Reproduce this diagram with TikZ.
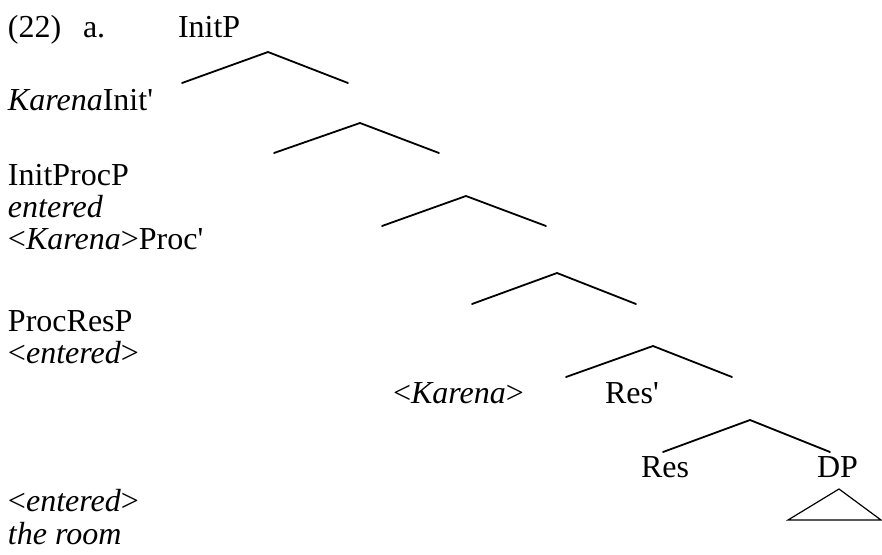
\documentclass[tikz,border=0pt]{standalone}
\usepackage{fontspec}
\setmainfont{Liberation Serif}
\usepackage{tikz}
\usetikzlibrary{positioning}
\newcommand{\primemark}{\textquotesingle}

\begin{document}
\begin{tikzpicture}[x=1pt,y=-1pt,inner sep=0pt,outer sep=0pt]
      \tikzset{word/.style={anchor=base west,font=\fontsize{32}{32}\selectfont}}
      \tikzset{branch/.style={line width=1.8pt,line cap=round,line join=miter}}
      \tikzset{roof/.style={line width=1.2pt}}
      \useasboundingbox (0,0) rectangle (882,554);

      % labels, first column
      \node [word] (num) at (8,37) {(22)};
      \node [word] (ex) at (83,37) {a.};
      \node [word] (initp) at (178,37) {InitP};
      \node [word] (initbar) at (8,110) {\textit{Karena}Init\primemark};
      \node [word] (initproc) at (8,185) {InitProcP};
      \node [word] (verb) at (8,217) {\textit{entered}};
      \node [word] (procbar) at (8,249) {<\textit{Karena}>Proc\primemark};
      \node [word] (procres) at (8,331) {ProcResP};
      \node [word] (vtrace) at (8,363) {<\textit{entered}>};
      \node [word] (rtrace) at (8,511) {<\textit{entered}>};
      \node [word] (obj) at (8,544) {\textit{the room}};

      % labels inside the tree
      \node [word] (subj) at (393,403) {<\textit{Karena}>};
      \node [word] (resbar) at (605,403) {Res\primemark};
      \node [word] (res) at (641,477) {Res};
      \node [word] (dp) at (817,477) {DP};

      % branch points
      \coordinate (a1) at (268,52);  \coordinate (l1) at (182,83);  \coordinate (r1) at (348,83);
      \coordinate (a2) at (360,123); \coordinate (l2) at (274,153); \coordinate (r2) at (439,153);
      \coordinate (a3) at (466,196); \coordinate (l3) at (382,226); \coordinate (r3) at (546,226);
      \coordinate (a4) at (557,273); \coordinate (l4) at (472,304); \coordinate (r4) at (636,304);
      \coordinate (a5) at (653,346); \coordinate (l5) at (566,377); \coordinate (r5) at (732,377);
      \coordinate (a6) at (750,420); \coordinate (l6) at (663,452); \coordinate (r6) at (830,452);

      \draw [branch] (l1) -- (a1) -- (r1);
      \draw [branch] (l2) -- (a2) -- (r2);
      \draw [branch] (l3) -- (a3) -- (r3);
      \draw [branch] (l4) -- (a4) -- (r4);
      \draw [branch] (l5) -- (a5) -- (r5);
      \draw [branch] (l6) -- (a6) -- (r6);

      % DP triangle
      \coordinate (tip) at (839,489);
      \draw [roof] (tip) -- (788,520) -- (881,520) -- cycle;
\end{tikzpicture}
\end{document}
